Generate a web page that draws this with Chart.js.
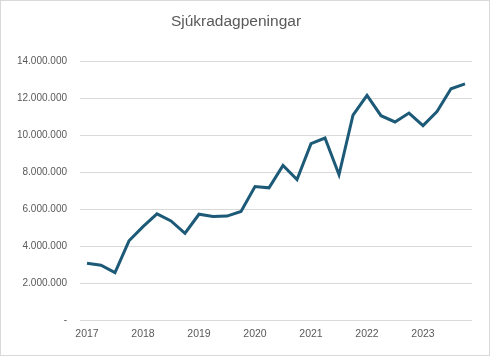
<!DOCTYPE html>
<html>
<head>
<meta charset="utf-8">
<script src="https://cdn.jsdelivr.net/npm/chart.js@4/dist/chart.umd.min.js"></script>
<style>
  html, body { margin: 0; padding: 0; background: #ffffff; }
  #wrap { width: 492px; height: 358px; position: relative; }
</style>
</head>
<body>
<div id="wrap"><canvas id="c" width="492" height="358"></canvas></div>
<script>
const years = ["2017", "2018", "2019", "2020", "2021", "2022", "2023"];
const quarters = ["Q1", "Q2", "Q3", "Q4"];
const values = [
  3080000, 2970000, 2570000, 4290000,
  5060000, 5750000, 5370000, 4700000,
  5730000, 5610000, 5630000, 5880000,
  7230000, 7160000, 8370000, 7610000,
  9550000, 9860000, 7870000, 11100000,
  12170000, 11070000, 10730000, 11210000,
  10530000, 11290000, 12530000, 12790000
];
const yTicks = [0, 2000000, 4000000, 6000000, 8000000, 10000000, 12000000, 14000000];
const title = "Sjúkradagpeningar";

const labels = [];
years.forEach(y => quarters.forEach(q => labels.push(y + " " + q)));

function fmt(v) {
  if (v === 0) return "-";
  return Math.round(v).toString().replace(/\B(?=(\d{3})+(?!\d))/g, ".");
}

const frame = {
  id: "frame",
  beforeDraw(chart) {
    const ctx = chart.ctx;
    ctx.save();
    ctx.fillStyle = "#ffffff";
    ctx.fillRect(0, 0, chart.width, chart.height);
    ctx.strokeStyle = "#d9d9d9";
    ctx.lineWidth = 1;
    ctx.strokeRect(0.5, 0.5, chart.width - 3, chart.height - 3);
    ctx.restore();
  }
};

new Chart(document.getElementById("c"), {
  type: "line",
  data: {
    labels: labels,
    datasets: [{
      data: values,
      borderColor: "#1d5a78",
      borderWidth: 3,
      pointRadius: 0,
      tension: 0,
      fill: false
    }]
  },
  options: {
    responsive: false,
    animation: false,
    layout: { padding: { left: 0, right: 20, top: 0, bottom: 0 } },
    plugins: {
      legend: { display: false },
      tooltip: { enabled: false },
      title: {
        display: true,
        text: title,
        color: "#595959",
        font: { family: "Liberation Sans", size: 15.5, weight: "normal" },
        padding: { top: 12, bottom: 31 }
      }
    },
    scales: {
      x: {
        type: "category",
        offset: true,
        grid: { display: false, drawTicks: false },
        border: { display: false },
        ticks: {
          autoSkip: false,
          maxRotation: 0,
          minRotation: 0,
          padding: 8,
          color: "#595959",
          font: { family: "Liberation Sans", size: 10.5 },
          callback: function(val, idx) {
            return idx % 4 === 0 ? years[idx / 4] : "";
          }
        },
        afterFit(scale) { scale.height = 38; }
      },
      y: {
        min: 0,
        max: 14000000,
        afterBuildTicks(scale) { scale.ticks = yTicks.map(v => ({ value: v })); },
        grid: { color: "#d9d9d9", lineWidth: 1, drawTicks: false },
        border: { display: false },
        ticks: {
          padding: 13,
          color: "#595959",
          font: { family: "Liberation Sans", size: 10 },
          callback: v => fmt(v)
        },
        afterFit(scale) { scale.width = 80; }
      }
    }
  },
  plugins: [frame]
});
</script>
</body>
</html>
